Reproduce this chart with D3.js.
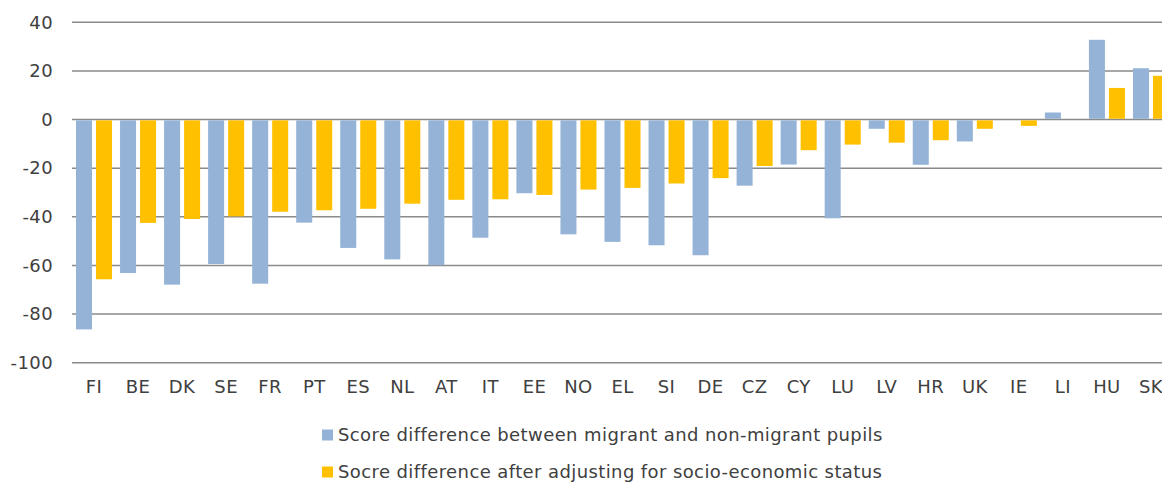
<!DOCTYPE html>
<html>
<head>
<meta charset="utf-8">
<script src="https://cdn.jsdelivr.net/npm/d3@7"></script>
<style>
  html, body { margin: 0; padding: 0; background: #fff; }
  svg { display: block; }
  text { font-family: "DejaVu Sans", Verdana, sans-serif; fill: #404040; }
</style>
</head>
<body>
<svg id="chart" width="1162" height="482"></svg>
<script>
const categories = ["FI","BE","DK","SE","FR","PT","ES","NL","AT","IT","EE","NO","EL","SI","DE","CZ","CY","LU","LV","HR","UK","IE","LI","HU","SK"];
const scoreDiff = [-86.3,-63.1,-67.9,-59.4,-67.5,-42.4,-52.8,-57.5,-59.9,-48.6,-30.3,-47.2,-50.3,-51.7,-55.8,-27.2,-18.5,-40.6,-3.8,-18.6,-9.0,null,2.9,32.8,21.1];
const adjustedDiff = [-65.7,-42.5,-40.9,-39.8,-37.9,-37.3,-36.7,-34.6,-33.0,-32.8,-31.0,-28.8,-28.1,-26.3,-24.1,-19.1,-12.6,-10.3,-9.5,-8.5,-3.8,-2.6,null,13.0,18.0];
const yTicks = [40,20,0,-20,-40,-60,-80,-100];
const seriesNames = ["Score difference between migrant and non-migrant pupils","Socre difference after adjusting for socio-economic status"];
const seriesColors = ["#95B3D7","#FFC000"];

const svg = d3.select("#chart");
const left = 72, step = 44.04;
const x0 = d3.scaleBand().domain(categories).range([left, left + step*categories.length]).paddingInner(0).paddingOuter(0);
const x1 = d3.scaleBand().domain([0,1]).range([0, x0.bandwidth()]).paddingInner(0.2).paddingOuter(0.2);
const y = d3.scaleLinear().domain([-100, 40]).range([362.7, 22.3]);
const fs = 18, ls = 0.4;

// gridlines
svg.append("g").selectAll("line").data(yTicks).join("line")
  .attr("x1", left).attr("x2", 1162)
  .attr("y1", d => y(d)).attr("y2", d => y(d))
  .attr("stroke", "#8a8a8a").attr("stroke-width", 1.6);

// y tick labels
svg.append("g").selectAll("text").data(yTicks).join("text")
  .attr("x", 53).attr("y", d => y(d)).attr("dy", "0.35em")
  .attr("text-anchor", "end").attr("font-size", fs).attr("letter-spacing", ls)
  .text(d => d);

// bars
const series = [scoreDiff, adjustedDiff];
series.forEach((vals, si) => {
  svg.append("g").selectAll("rect")
    .data(categories.map((c, i) => ({c, v: vals[i]})).filter(d => d.v !== null))
    .join("rect")
    .attr("x", d => x0(d.c) + x1(si))
    .attr("width", x1.bandwidth())
    .attr("y", d => y(Math.max(0, d.v)) + (d.v < 0 ? 0.8 : 0))
    .attr("height", d => Math.abs(y(d.v) - y(0)) - 0.8)
    .attr("fill", seriesColors[si]);
});

// category labels
svg.append("g").selectAll("text").data(categories).join("text")
  .attr("x", d => x0(d) + x0.bandwidth()/2).attr("y", 387).attr("dy", "0.35em")
  .attr("text-anchor", "middle").attr("font-size", fs).attr("letter-spacing", ls)
  .text(d => d);

// legend
const legY = [435, 472];
const lg = svg.append("g").selectAll("g").data(seriesNames).join("g");
lg.append("rect").attr("x", 322).attr("y", (d, i) => legY[i] - 5.5)
  .attr("width", 11).attr("height", 11).attr("fill", (d, i) => seriesColors[i]);
lg.append("text").attr("x", 338).attr("y", (d, i) => legY[i]).attr("dy", "0.35em")
  .attr("font-size", fs).attr("letter-spacing", ls).text(d => d);
</script>
</body>
</html>
